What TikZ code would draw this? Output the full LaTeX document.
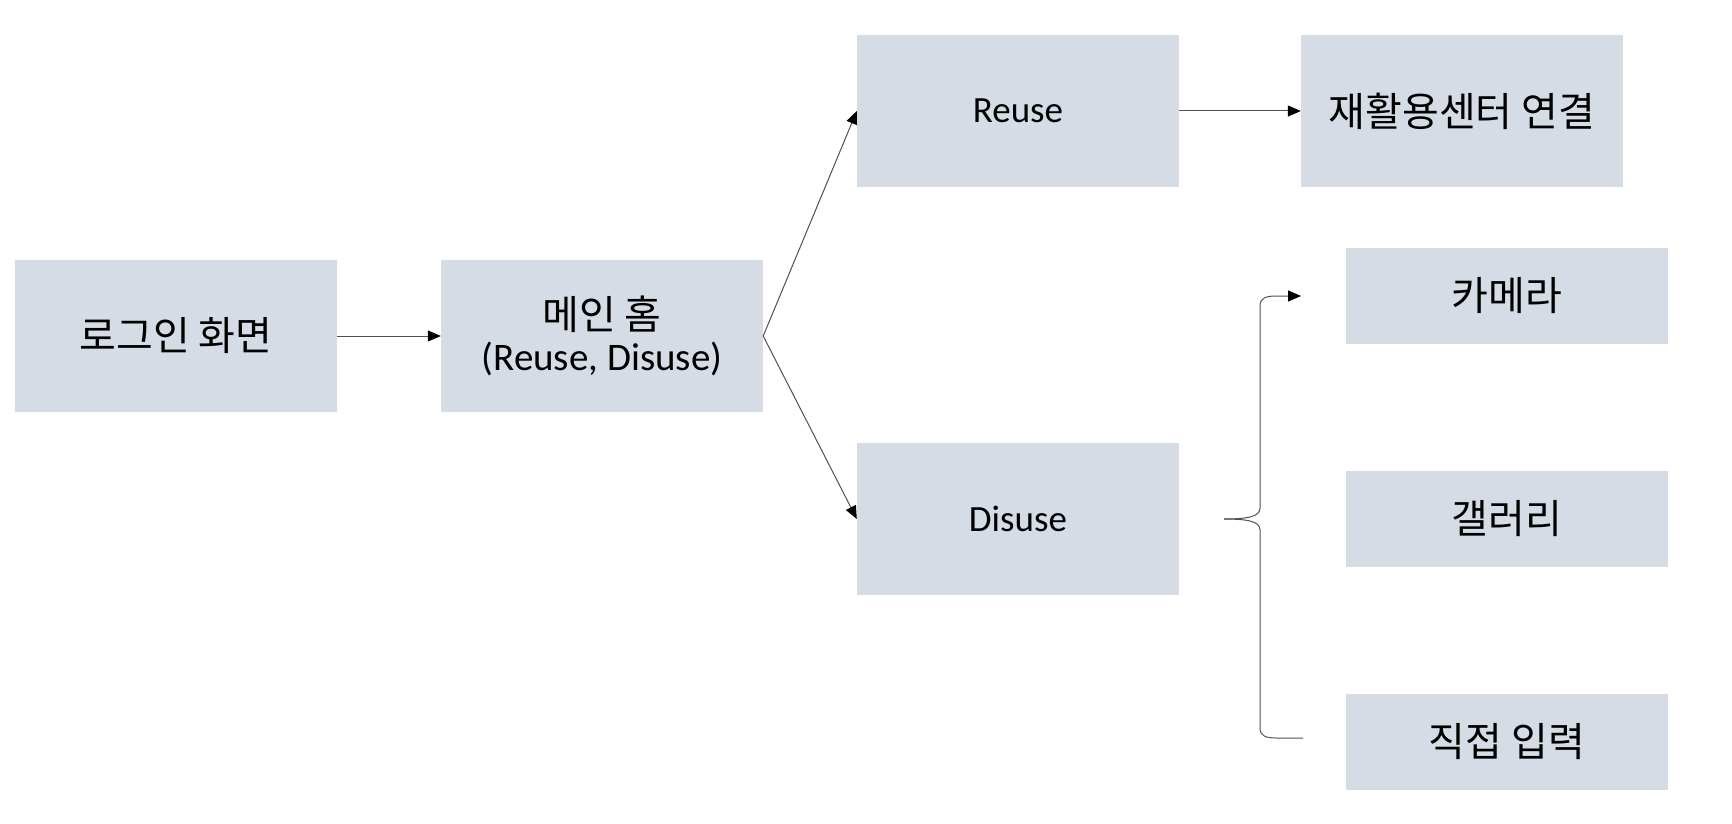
\documentclass[tikz,border=0pt]{standalone}
\usepackage{fontspec}
\setmainfont{Carlito}
\newfontfamily\cjk{Noto Sans CJK KR}
\usetikzlibrary{arrows.meta,positioning,calc}
\definecolor{boxfill}{HTML}{D6DCE5}
\definecolor{linegray}{HTML}{505050}
\tikzset{
  box/.style={fill=boxfill, draw=none, inner sep=0pt, minimum width=322pt},
  conn/.style={draw=linegray, line width=1pt, -{Triangle[length=13pt,width=11pt,fill=black,color=black]}},
  plain/.style={draw=linegray, line width=1pt},
  kor/.style={font=\cjk\fontsize{40}{48}\selectfont},
  lat/.style={font=\fontsize{37}{44}\selectfont},
}
\begin{document}
\begin{tikzpicture}[x=1pt,y=-1pt]
\useasboundingbox (0,0) rectangle (1732,824);
\node[box, kor, minimum height=152pt] (login) at (176,336) {로그인 화면};
\node[box, minimum height=152pt, align=center] (main) at (602,336)
  {{\cjk\fontsize{40}{48}\selectfont 메인 홈}\\[9pt]{\fontsize{39}{46}\selectfont (Reuse, Disuse)}};
\node[box, lat, minimum height=152pt] (reuse) at (1018,111) {Reuse};
\node[box, lat, minimum height=152pt] (disuse) at (1018,519) {Disuse};
\node[box, kor, minimum height=152pt] (center) at (1462,111) {재활용센터 연결};
\node[box, kor, minimum height=96pt] (cam) at (1507,296) {카메라};
\node[box, kor, minimum height=96pt] (gal) at (1507,519) {갤러리};
\node[box, kor, minimum height=96pt] (direct) at (1507,742) {직접 입력};

\draw[conn] (login.east) -- (main.west);
\draw[conn] (main.east) -- (reuse.west);
\draw[conn] (main.east) -- (disuse.west);
\draw[conn] (reuse.east) -- (center.west);

\coordinate (tip) at (1224,519);
\coordinate (btop) at (1301,296);
\coordinate (bbot) at (1303,738);
\draw[conn] (tip) .. controls (1250,519) and (1260,516) .. (1260,508)
  -- (1260,306) .. controls (1260,298) and (1266,296) .. (1276,296) -- (btop);
\draw[plain] (tip) .. controls (1250,519) and (1260,522) .. (1260,530)
  -- (1260,728) .. controls (1260,736) and (1266,738) .. (1276,738) -- (bbot);
\end{tikzpicture}
\end{document}
